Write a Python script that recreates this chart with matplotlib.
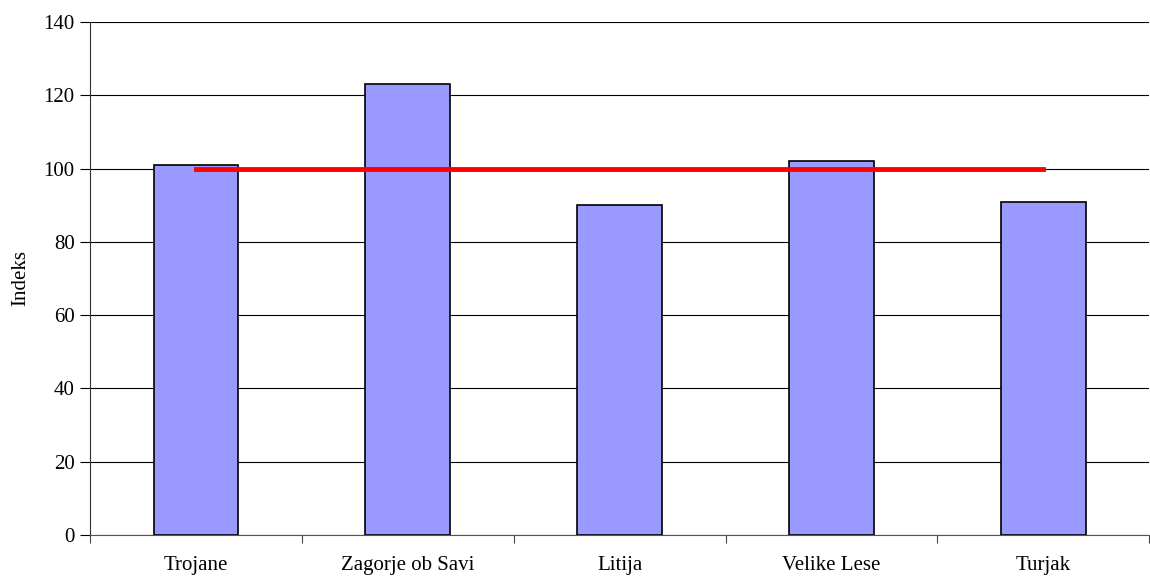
import matplotlib
matplotlib.use("Agg")
import matplotlib.pyplot as plt
import numpy as np

categories = ["Trojane", "Zagorje ob Savi", "Litija", "Velike Lese", "Turjak"]
indeks = [101, 123, 90, 102, 91]
reference = [100, 100, 100, 100, 100]

plt.rcParams["font.family"] = ["Liberation Serif", "DejaVu Serif"]
FS = 15

fig = plt.figure(figsize=(11.5, 5.81), dpi=100)
ax = fig.add_axes([0.0783, 0.0792, 0.921, 0.883])

x = np.arange(len(categories))
ax.bar(x, indeks, width=0.4, color="#9999ff", edgecolor="black", linewidth=1.2, zorder=2)
ax.plot(x, reference, color="#ff0000", linewidth=3.5, zorder=3)

ax.set_xlim(-0.5, len(categories) - 0.5)
ax.set_ylim(0, 140)
ax.set_yticks(np.arange(0, 141, 20))
ax.yaxis.grid(True, color="black", linewidth=0.8, zorder=0)
ax.set_axisbelow(True)

# category labels centred, tick marks on category boundaries
ax.set_xticks(np.arange(-0.5, len(categories), 1.0))
ax.set_xticklabels([])
ax.set_xticks(x, minor=True)
ax.set_xticklabels(categories, minor=True, fontsize=FS)
ax.tick_params(axis="x", which="minor", length=0, pad=15)
ax.tick_params(axis="x", which="major", length=6, direction="out", color="#444444")
ax.tick_params(axis="y", length=7, direction="out", labelsize=FS, pad=4)

for s in ["top", "right"]:
    ax.spines[s].set_visible(False)
ax.spines["left"].set_color("#333333")
ax.spines["bottom"].set_color("#555555")

ax.set_ylabel("Indeks", fontsize=FS)
ax.yaxis.set_label_coords(-0.056, 0.5)

fig.savefig("out.png", dpi=100)
